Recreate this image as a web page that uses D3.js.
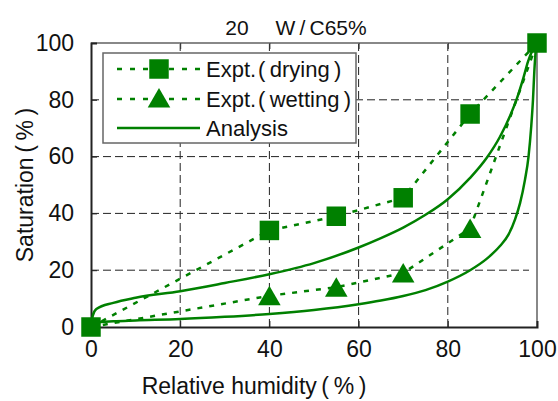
<!DOCTYPE html>
<html>
<head>
<meta charset="utf-8">
<script src="https://cdn.jsdelivr.net/npm/d3@7"></script>
<style>
  body { margin: 0; background: #fff; }
  svg text { font-family: "Liberation Sans", Arial, sans-serif; fill: #111; }
</style>
</head>
<body>
<div id="chart"></div>
<script>
// experiment points
var rhDrying = [0, 40, 55, 70, 85, 100];
var satDrying = [0, 34, 39, 45.5, 75, 100];
var rhWetting = [0, 40, 55, 70, 85, 100];
var satWetting = [0, 11, 14, 19, 34.7, 100];

// analysis curves
var rhAnaUpper = [0, 0.4, 1.2, 5, 10, 20, 30, 40, 50, 60, 65, 70, 75, 80, 85, 88.7, 91.7, 94, 95.5, 97, 98, 99, 100];
var satAnaUpper = [0, 4, 6.3, 8.5, 10.3, 12.6, 15.5, 18.6, 22.5, 28, 31.3, 35, 39.5, 45, 52.5, 59.5, 67, 74.5, 80.5, 88, 93.5, 97.5, 100];
var rhAnaLower = [0, 1, 5, 10, 20, 30, 40, 50, 60, 65, 70, 75, 80, 85, 88.7, 91.7, 93.6, 95.1, 96.2, 97.3, 98.1, 98.7, 99.1, 99.4, 99.7, 100];
var satAnaLower = [0, 1.5, 2, 2.3, 2.8, 3.6, 4.6, 6, 8, 9.3, 10.9, 13, 16, 20, 24, 28.5, 32.5, 38, 43.6, 51.8, 60, 70.5, 80, 90, 97, 100];

var ticks = [0, 20, 40, 60, 80, 100];
var legendLabels = ["Expt.\u200a(\u2009drying\u2009)", "Expt.\u200a(\u2009wetting\u2009)", "Analysis"];
var title = "20\u2003 W\u2009/\u2009C65%";

var width = 558, height = 401;
var green = "#008000";
var mLeft = 91, mRight = 537, mTop = 43, mBottom = 327;

var svg = d3.select("#chart").append("svg")
    .attr("width", width)
    .attr("height", height);

var x = d3.scaleLinear().domain([0, 100]).range([mLeft, mRight]);
var y = d3.scaleLinear().domain([0, 100]).range([mBottom, mTop]);

//grid
var grid = svg.append("g");
grid.selectAll(".vg").data(ticks.slice(1, 5)).enter().append("line")
    .attr("x1", d => x(d)).attr("x2", d => x(d))
    .attr("y1", mTop).attr("y2", mBottom)
    .attr("stroke", "#222").attr("stroke-width", 1)
    .attr("stroke-dasharray", "8,4");
grid.selectAll(".hg").data(ticks.slice(1, 5)).enter().append("line")
    .attr("y1", d => y(d)).attr("y2", d => y(d))
    .attr("x1", mLeft).attr("x2", mRight - 8)
    .attr("stroke", "#222").attr("stroke-width", 1)
    .attr("stroke-dasharray", "8,4");

//frame: top and right grey
svg.append("line").attr("x1", mLeft).attr("x2", mRight).attr("y1", mTop).attr("y2", mTop)
    .attr("stroke", "#888").attr("stroke-width", 2);
svg.append("line").attr("x1", mRight).attr("x2", mRight).attr("y1", mTop).attr("y2", mBottom)
    .attr("stroke", "#888").attr("stroke-width", 2);

//axes
var xAxis = d3.axisBottom(x).tickValues(ticks).tickSize(-6).tickPadding(14);
var yAxis = d3.axisLeft(y).tickValues(ticks).tickSize(-6).tickPadding(17);
var topAxis = d3.axisTop(x).tickValues(ticks.slice(1, 5)).tickSize(-6).tickFormat("");

svg.append("g").attr("transform", "translate(0," + mTop + ")").call(topAxis)
    .call(g => g.select(".domain").remove())
    .selectAll("line").attr("stroke", "#333").attr("stroke-width", 1);

var gx = svg.append("g").attr("transform", "translate(0," + mBottom + ")").call(xAxis);
var gy = svg.append("g").attr("transform", "translate(" + mLeft + ",0)").call(yAxis);
[gx, gy].forEach(function (g) {
    g.select(".domain").attr("stroke", "#222").attr("stroke-width", 2);
    g.selectAll(".tick line").attr("stroke", "#222").attr("stroke-width", 1);
    g.selectAll("text").style("font-size", "23px").attr("fill", "#111");
});

//legend box
var lg = svg.append("g");
lg.append("rect").attr("x", 103).attr("y", 53).attr("width", 253).attr("height", 90)
    .attr("fill", "#fff").attr("stroke", "#666").attr("stroke-width", 1.5);

//curves
var line = d3.line().x(d => x(d[0])).y(d => y(d[1]));
var smooth = d3.line().x(d => x(d[0])).y(d => y(d[1])).curve(d3.curveMonotoneX);

var upper = d3.zip(rhAnaUpper, satAnaUpper);
var lower = d3.zip(rhAnaLower, satAnaLower);
[upper, lower].forEach(function (pts) {
    svg.append("path").datum(pts).attr("d", smooth)
        .attr("fill", "none").attr("stroke", green).attr("stroke-width", 2.5);
});

var drying = d3.zip(rhDrying, satDrying);
var wetting = d3.zip(rhWetting, satWetting);
[drying, wetting].forEach(function (pts) {
    svg.append("path").datum(pts).attr("d", line)
        .attr("fill", "none").attr("stroke", green).attr("stroke-width", 2.5)
        .attr("stroke-dasharray", "5,7");
});

var sq = d3.symbol().type(d3.symbolSquare).size(380);
var tri = d3.symbol().type(d3.symbolTriangle).size(220);

svg.selectAll(".dry").data(drying).enter().append("path")
    .attr("d", sq)
    .attr("transform", d => "translate(" + x(d[0]) + "," + y(d[1]) + ")")
    .attr("fill", green);
svg.selectAll(".wet").data(wetting.slice(1, 5)).enter().append("path")
    .attr("d", tri)
    .attr("transform", d => "translate(" + x(d[0]) + "," + (y(d[1]) + 3) + ")")
    .attr("fill", green);

//legend entries
var rows = [69, 99, 128];
rows.forEach(function (ry, i) {
    var l = lg.append("line").attr("x1", 117).attr("x2", 200).attr("y1", ry).attr("y2", ry)
        .attr("stroke", green).attr("stroke-width", 2.5);
    if (i < 2) l.attr("stroke-dasharray", "5,8");
    if (i == 0) lg.append("path").attr("d", sq).attr("transform", "translate(159," + ry + ")").attr("fill", green);
    if (i == 1) lg.append("path").attr("d", tri).attr("transform", "translate(159," + (ry + 2) + ")").attr("fill", green);
    lg.append("text").attr("x", 206).attr("y", ry + 8).style("font-size", "22px").text(legendLabels[i]);
});

//titles
svg.append("text").attr("x", 296).attr("y", 35).attr("text-anchor", "middle")
    .style("font-size", "21px").text(title);
svg.append("text").attr("x", 254).attr("y", 394).attr("text-anchor", "middle")
    .style("font-size", "23px").text("Relative humidity\u2009(\u2009%\u2009)");
svg.append("text").attr("transform", "translate(33,185) rotate(-90)").attr("text-anchor", "middle")
    .style("font-size", "23px").text("Saturation\u2009(\u2009%\u2009)");
</script>
</body>
</html>
